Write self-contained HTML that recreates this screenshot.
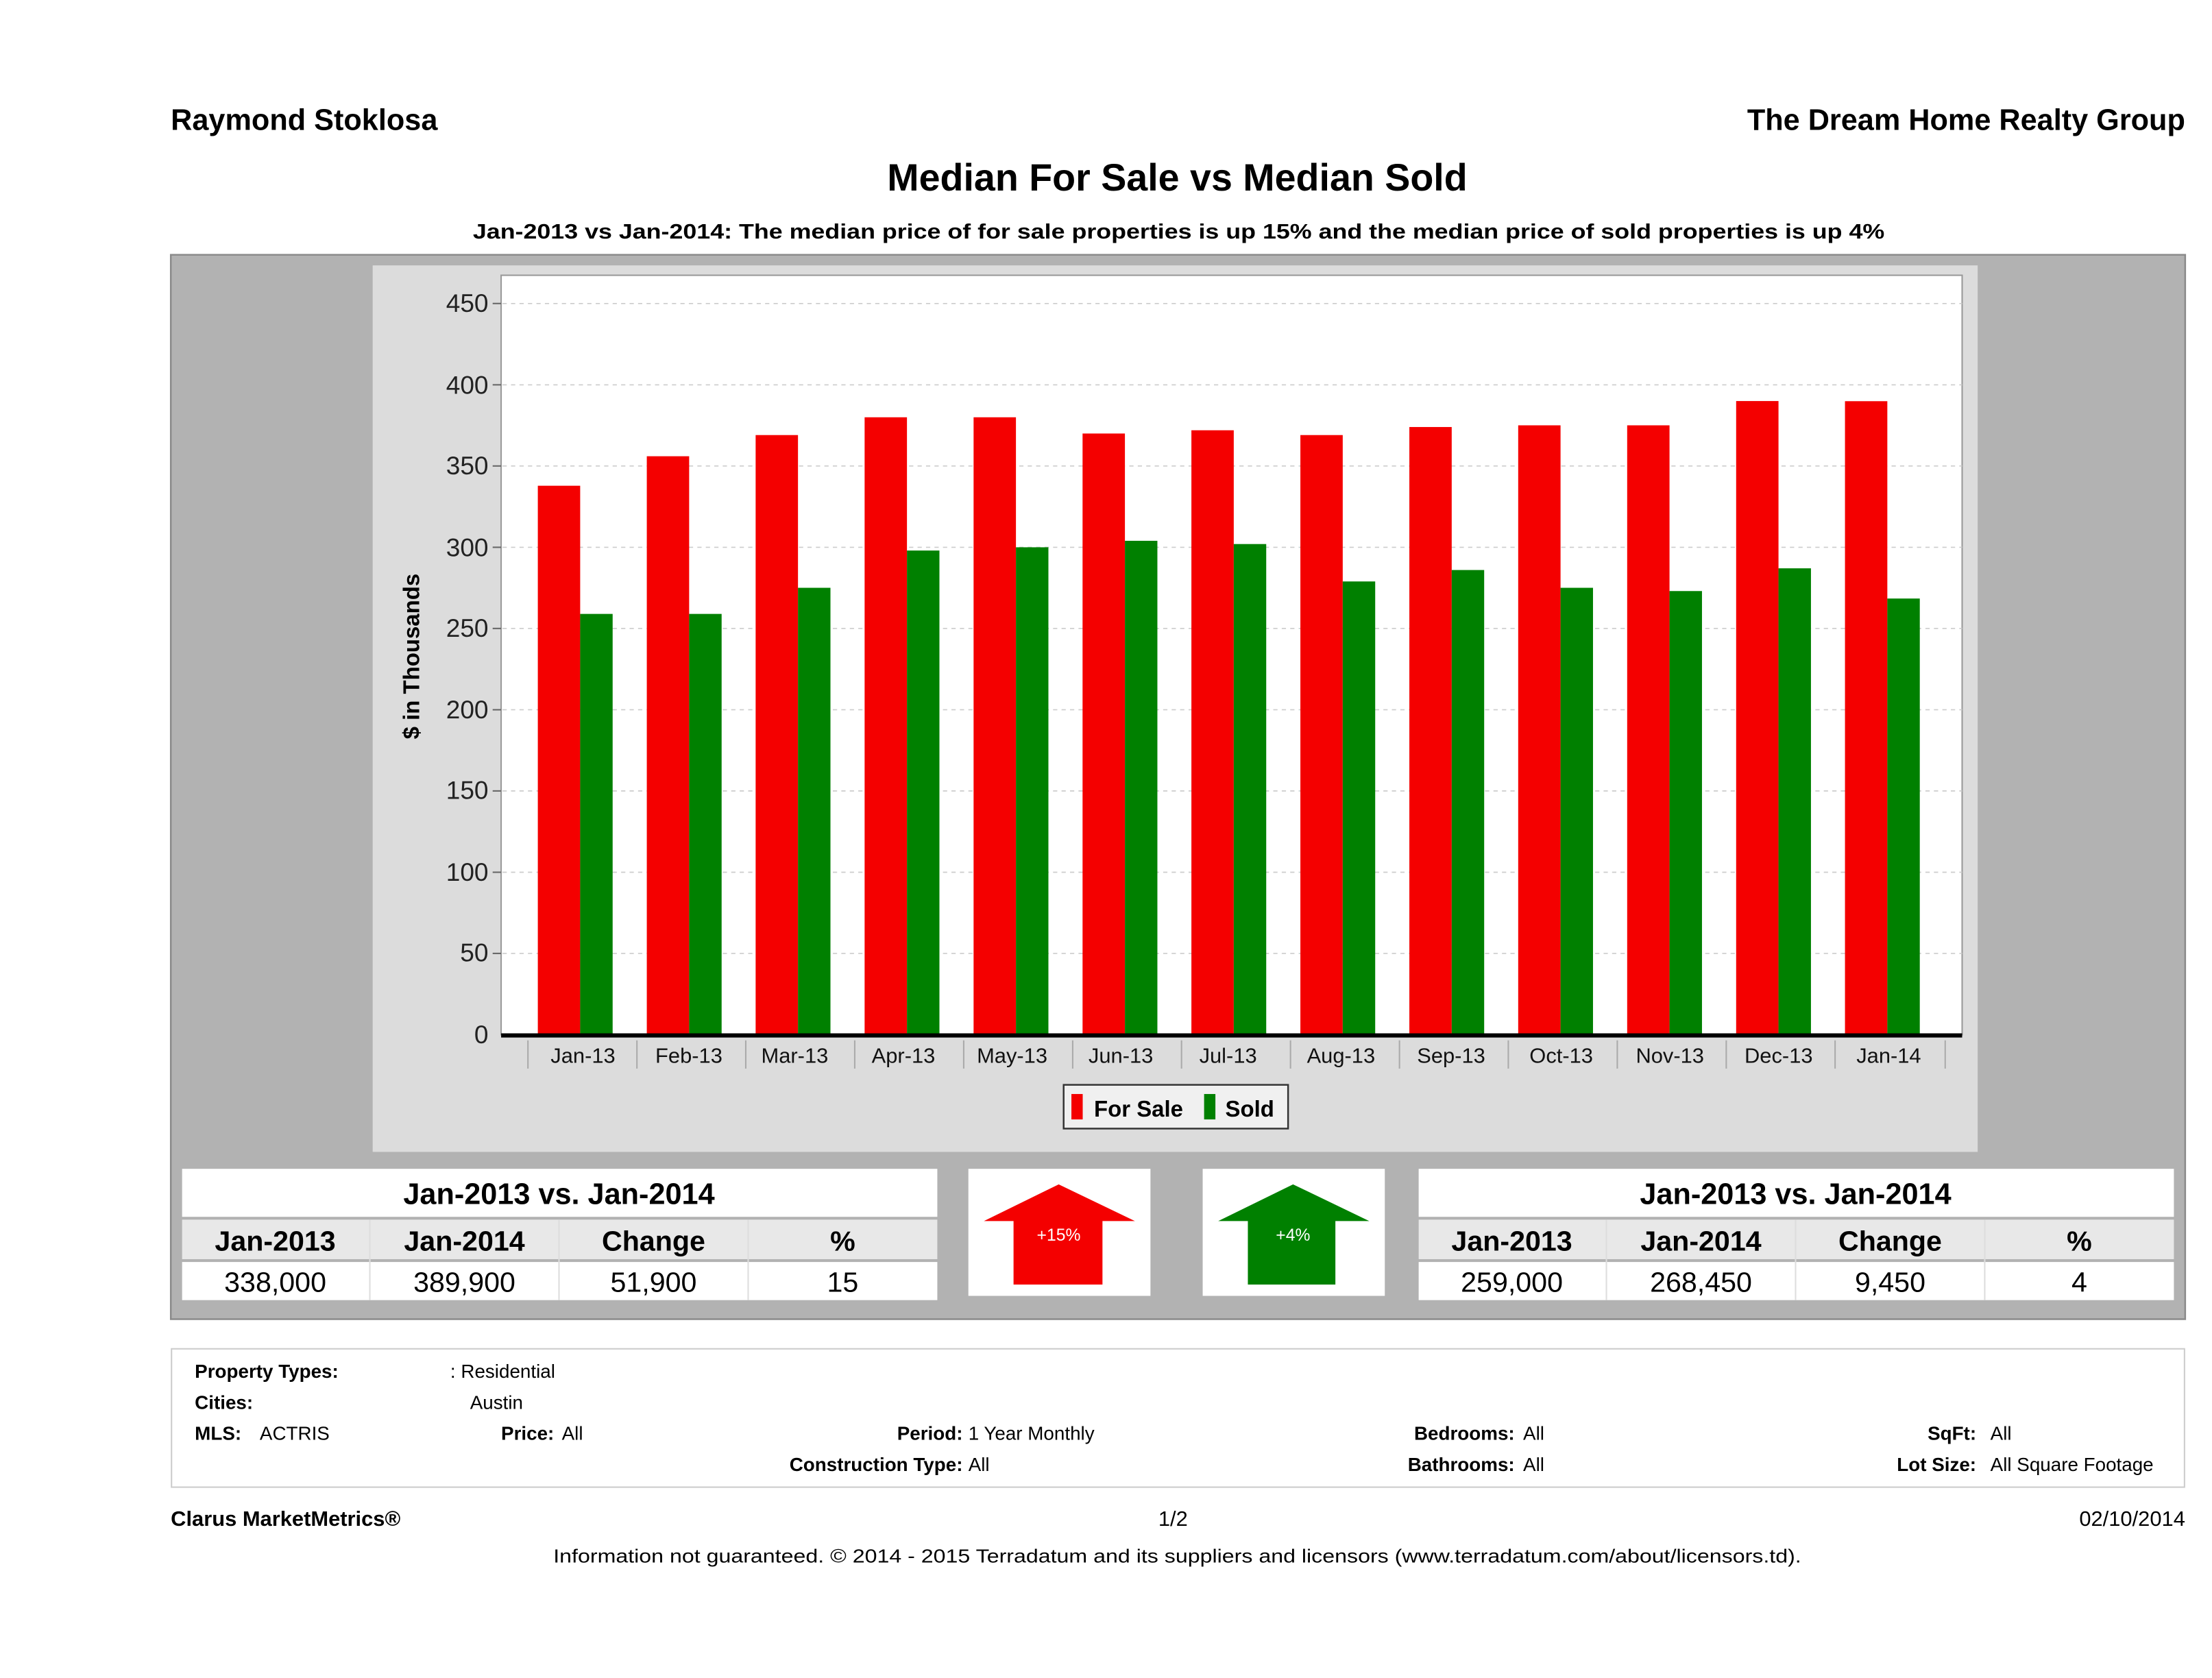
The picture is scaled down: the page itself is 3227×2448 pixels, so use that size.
<!DOCTYPE html>
<html><head><meta charset="utf-8"><style>html,body{margin:0;padding:0;background:#fff}svg{display:block}</style></head>
<body>
<svg xmlns="http://www.w3.org/2000/svg" width="3227" height="2448" viewBox="0 0 1567 1188.7" preserveAspectRatio="none" font-family="Liberation Sans, sans-serif">
<rect width="1567" height="1189" fill="#fff"/>
<text x="121" y="92" font-size="21" font-weight="bold" fill="#000">Raymond Stoklosa</text>
<text x="1548" y="92" font-size="21" font-weight="bold" text-anchor="end" fill="#000">The Dream Home Realty Group</text>
<text x="834" y="135" font-size="27" font-weight="bold" text-anchor="middle">Median For Sale vs Median Sold</text>
<text x="835" y="169" font-size="15" font-weight="bold" text-anchor="middle" textLength="1000" lengthAdjust="spacingAndGlyphs">Jan-2013 vs Jan-2014: The median price of for sale properties is up 15% and the median price of sold properties is up 4%</text>
<rect x="121" y="180.5" width="1427" height="754" fill="#b2b2b2" stroke="#8a8a8a" stroke-width="1.2"/>
<rect x="264" y="188" width="1137" height="628" fill="#dcdcdc"/>
<rect x="355" y="195" width="1035" height="538" fill="#fff" stroke="#999" stroke-width="1"/>
<g stroke="#ccc" stroke-dasharray="3,3" stroke-width="0.8">
<line x1="356" x2="1390" y1="215" y2="215"/><line x1="356" x2="1390" y1="272.6" y2="272.6"/><line x1="356" x2="1390" y1="330.1" y2="330.1"/><line x1="356" x2="1390" y1="387.7" y2="387.7"/><line x1="356" x2="1390" y1="445.2" y2="445.2"/><line x1="356" x2="1390" y1="502.8" y2="502.8"/><line x1="356" x2="1390" y1="560.3" y2="560.3"/><line x1="356" x2="1390" y1="617.9" y2="617.9"/><line x1="356" x2="1390" y1="675.4" y2="675.4"/>
</g>
<g font-size="18" text-anchor="end" fill="#222">
<text x="346" y="221">450</text><text x="346" y="279">400</text><text x="346" y="336">350</text><text x="346" y="394">300</text><text x="346" y="451">250</text><text x="346" y="509">200</text><text x="346" y="566">150</text><text x="346" y="624">100</text><text x="346" y="681">50</text><text x="346" y="739">0</text>
</g>
<g stroke="#666" stroke-width="1"><line x1="349" x2="355" y1="215" y2="215"/><line x1="349" x2="355" y1="272.6" y2="272.6"/><line x1="349" x2="355" y1="330.1" y2="330.1"/><line x1="349" x2="355" y1="387.7" y2="387.7"/><line x1="349" x2="355" y1="445.2" y2="445.2"/><line x1="349" x2="355" y1="502.8" y2="502.8"/><line x1="349" x2="355" y1="560.3" y2="560.3"/><line x1="349" x2="355" y1="617.9" y2="617.9"/><line x1="349" x2="355" y1="675.4" y2="675.4"/></g>
<text transform="translate(297,465) rotate(-90)" font-size="16" font-weight="bold" text-anchor="middle">$ in Thousands</text>
<g fill="#f40000">
<rect x="381" y="344.1" width="30" height="388.9"/><rect x="458.2" y="323.2" width="30" height="409.8"/><rect x="535.3" y="308.2" width="30" height="424.8"/><rect x="612.5" y="295.6" width="30" height="437.4"/><rect x="689.7" y="295.6" width="30" height="437.4"/><rect x="766.9" y="307.1" width="30" height="425.9"/><rect x="844" y="304.8" width="30" height="428.2"/><rect x="921.2" y="308.2" width="30" height="424.8"/><rect x="998.4" y="302.5" width="30" height="430.5"/><rect x="1075.5" y="301.3" width="30" height="431.7"/><rect x="1152.7" y="301.3" width="30" height="431.7"/><rect x="1229.9" y="284.1" width="30" height="448.9"/><rect x="1307" y="284.2" width="30" height="448.8"/>
</g>
<g fill="#008000">
<rect x="411" y="434.9" width="23" height="298.1"/><rect x="488.2" y="434.9" width="23" height="298.1"/><rect x="565.3" y="416.4" width="23" height="316.6"/><rect x="642.5" y="390" width="23" height="343"/><rect x="719.7" y="387.7" width="23" height="345.3"/><rect x="796.9" y="383.1" width="23" height="349.9"/><rect x="874" y="385.4" width="23" height="347.6"/><rect x="951.2" y="411.9" width="23" height="321.1"/><rect x="1028.4" y="403.8" width="23" height="329.2"/><rect x="1105.5" y="416.4" width="23" height="316.6"/><rect x="1182.7" y="418.7" width="23" height="314.3"/><rect x="1259.9" y="402.6" width="23" height="330.4"/><rect x="1337" y="424" width="23" height="309"/>
</g>
<line x1="355" x2="1390" y1="733.5" y2="733.5" stroke="#000" stroke-width="3"/>
<g stroke="#aaa" stroke-width="1">
<line x1="374" x2="374" y1="737" y2="757"/><line x1="451.2" x2="451.2" y1="737" y2="757"/><line x1="528.3" x2="528.3" y1="737" y2="757"/><line x1="605.5" x2="605.5" y1="737" y2="757"/><line x1="682.7" x2="682.7" y1="737" y2="757"/><line x1="759.9" x2="759.9" y1="737" y2="757"/><line x1="837" x2="837" y1="737" y2="757"/><line x1="914.2" x2="914.2" y1="737" y2="757"/><line x1="991.4" x2="991.4" y1="737" y2="757"/><line x1="1068.5" x2="1068.5" y1="737" y2="757"/><line x1="1145.7" x2="1145.7" y1="737" y2="757"/><line x1="1222.9" x2="1222.9" y1="737" y2="757"/><line x1="1300" x2="1300" y1="737" y2="757"/><line x1="1378" x2="1378" y1="737" y2="757"/>
</g>
<g font-size="15" text-anchor="middle" fill="#111">
<text x="413" y="753">Jan-13</text><text x="488" y="753">Feb-13</text><text x="563" y="753">Mar-13</text><text x="640" y="753">Apr-13</text><text x="717" y="753">May-13</text><text x="794" y="753">Jun-13</text><text x="870" y="753">Jul-13</text><text x="950" y="753">Aug-13</text><text x="1028" y="753">Sep-13</text><text x="1106" y="753">Oct-13</text><text x="1183" y="753">Nov-13</text><text x="1260" y="753">Dec-13</text><text x="1338" y="753">Jan-14</text>
</g>
<rect x="753.5" y="768.5" width="159" height="31" fill="#f0f0f0" stroke="#333" stroke-width="1.2"/>
<rect x="759" y="775" width="8" height="18" fill="#f40000"/>
<text x="775" y="791" font-size="16" font-weight="bold">For Sale</text>
<rect x="853" y="775" width="8" height="18" fill="#008000"/>
<text x="868" y="791" font-size="16" font-weight="bold">Sold</text>
<rect x="129" y="828" width="535" height="34" fill="#fff"/>
<rect x="129" y="864" width="535" height="28" fill="#e8e8e8"/>
<rect x="129" y="894" width="535" height="27" fill="#fff"/>
<g stroke="#ddd" stroke-width="1"><line x1="262" x2="262" y1="864" y2="921"/><line x1="396" x2="396" y1="864" y2="921"/><line x1="530" x2="530" y1="864" y2="921"/></g>
<text x="396" y="853" font-size="21" font-weight="bold" text-anchor="middle">Jan-2013 vs. Jan-2014</text>
<g font-size="20" font-weight="bold" text-anchor="middle"><text x="195" y="886">Jan-2013</text><text x="329" y="886">Jan-2014</text><text x="463" y="886">Change</text><text x="597" y="886">%</text></g>
<g font-size="20" text-anchor="middle"><text x="195" y="915">338,000</text><text x="329" y="915">389,900</text><text x="463" y="915">51,900</text><text x="597" y="915">15</text></g>
<rect x="686" y="828" width="129" height="90" fill="#fff"/>
<polygon points="750,839 804,865 781,865 781,910 718,910 718,865 697,865" fill="#f40000"/>
<text x="750" y="879" font-size="12" fill="#fff" text-anchor="middle">+15%</text>
<rect x="852" y="828" width="129" height="90" fill="#fff"/>
<polygon points="916,839 970,865 946,865 946,910 884,910 884,865 863,865" fill="#008000"/>
<text x="916" y="879" font-size="12" fill="#fff" text-anchor="middle">+4%</text>
<rect x="1005" y="828" width="535" height="34" fill="#fff"/>
<rect x="1005" y="864" width="535" height="28" fill="#e8e8e8"/>
<rect x="1005" y="894" width="535" height="27" fill="#fff"/>
<g stroke="#ddd" stroke-width="1"><line x1="1138" x2="1138" y1="864" y2="921"/><line x1="1272" x2="1272" y1="864" y2="921"/><line x1="1406" x2="1406" y1="864" y2="921"/></g>
<text x="1272" y="853" font-size="21" font-weight="bold" text-anchor="middle">Jan-2013 vs. Jan-2014</text>
<g font-size="20" font-weight="bold" text-anchor="middle"><text x="1071" y="886">Jan-2013</text><text x="1205" y="886">Jan-2014</text><text x="1339" y="886">Change</text><text x="1473" y="886">%</text></g>
<g font-size="20" text-anchor="middle"><text x="1071" y="915">259,000</text><text x="1205" y="915">268,450</text><text x="1339" y="915">9,450</text><text x="1473" y="915">4</text></g>
<rect x="121.5" y="955.5" width="1426" height="98" fill="#fff" stroke="#ccc" stroke-width="1"/>
<g font-size="13.5">
<text x="138" y="976" font-weight="bold">Property Types:</text><text x="319" y="976">: Residential</text>
<text x="138" y="998" font-weight="bold">Cities:</text><text x="333" y="998">Austin</text>
<text x="138" y="1020" font-weight="bold">MLS:</text><text x="184" y="1020">ACTRIS</text>
<text x="355" y="1020" font-weight="bold">Price:</text><text x="398" y="1020">All</text>
<text x="682" y="1020" font-weight="bold" text-anchor="end">Period:</text><text x="686" y="1020">1 Year Monthly</text>
<text x="682" y="1042" font-weight="bold" text-anchor="end">Construction Type:</text><text x="686" y="1042">All</text>
<text x="1073" y="1020" font-weight="bold" text-anchor="end">Bedrooms:</text><text x="1079" y="1020">All</text>
<text x="1073" y="1042" font-weight="bold" text-anchor="end">Bathrooms:</text><text x="1079" y="1042">All</text>
<text x="1400" y="1020" font-weight="bold" text-anchor="end">SqFt:</text><text x="1410" y="1020">All</text>
<text x="1400" y="1042" font-weight="bold" text-anchor="end">Lot Size:</text><text x="1410" y="1042">All Square Footage</text>
</g>
<text x="121" y="1081" font-size="15" font-weight="bold">Clarus MarketMetrics®</text>
<text x="831" y="1081" font-size="15" text-anchor="middle">1/2</text>
<text x="1548" y="1081" font-size="15" text-anchor="end">02/10/2014</text>
<text x="834" y="1107" font-size="13.5" text-anchor="middle" textLength="884" lengthAdjust="spacingAndGlyphs">Information not guaranteed. © 2014 - 2015 Terradatum and its suppliers and licensors (www.terradatum.com/about/licensors.td).</text>
</svg>
</body></html>
